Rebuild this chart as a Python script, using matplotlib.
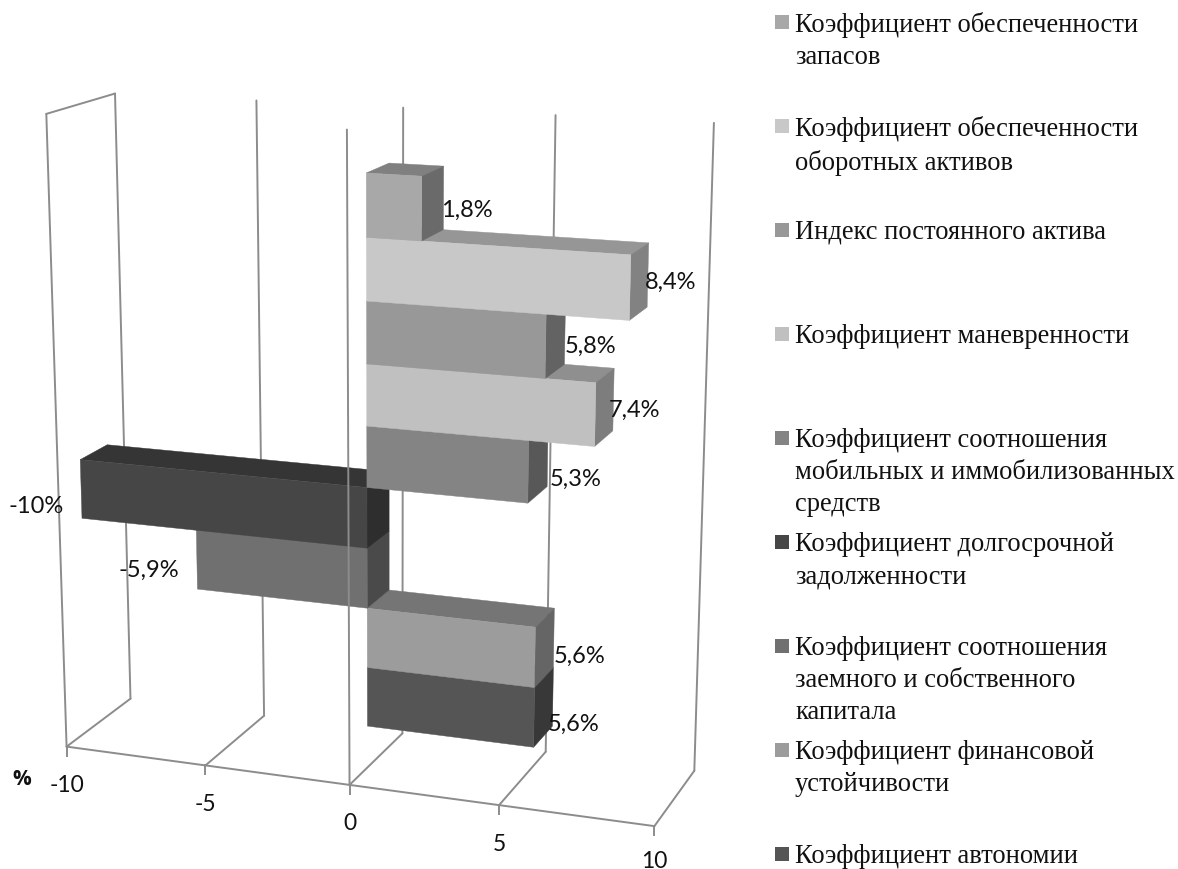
import matplotlib
matplotlib.use("Agg")
import matplotlib.pyplot as plt
import numpy as np
from matplotlib.patches import Polygon, Rectangle

labels = [
    "Коэффициент обеспеченности\nзапасов",
    "Коэффициент обеспеченности\nоборотных активов",
    "Индекс постоянного актива",
    "Коэффициент маневренности",
    "Коэффициент соотношения\nмобильных и иммобилизованных\nсредств",
    "Коэффициент долгосрочной\nзадолженности",
    "Коэффициент соотношения\nзаемного и собственного\nкапитала",
    "Коэффициент финансовой\nустойчивости",
    "Коэффициент автономии",
]
values = [1.8, 8.4, 5.8, 7.4, 5.3, -10, -5.9, 5.6, 5.6]
value_text = ["1,8%", "8,4%", "5,8%", "7,4%", "5,3%", "-10%", "-5,9%", "5,6%", "5,6%"]
axis_ticks = [-10, -5, 0, 5, 10]

front_colors = ["#a8a8a8", "#c8c8c8", "#989898", "#c0c0c0", "#848484", "#464646", "#707070", "#9c9c9c", "#555555"]
top_colors = ["#808080", "#969696", "#747474", "#8f8f8f", "#636363", "#353535", "#545454", "#757575", "#404040"]
side_colors = ["#6a6a6a", "#828282", "#636363", "#7d7d7d", "#585858", "#2e2e2e", "#4a4a4a", "#656565", "#383838"]
line_color = "#8c8c8c"

# per-label nudge from the bar end, in pixels
label_nudge = [(-2, 1), (-3, -6), (0, -1), (-5, -5), (2, 6), (-17, 16), (-18, 10), (0, -2), (-5, 6)]

# (value, depth, height) -> pixel pairs used to fit the camera
camera_points = [
    ((-10, 0, 0), (66.7, 747.7)), ((-5, 0, 0), (205.7, 766.7)), ((0, 0, 0), (349.3, 785.5)),
    ((5, 0, 0), (499, 806)), ((10, 0, 0), (654.3, 827.3)),
    ((-10, 1, 0), (130, 700)), ((-5, 1, 0), (264, 716.7)), ((0, 1, 0), (403, 733)),
    ((5, 1, 0), (546, 753.3)), ((10, 1, 0), (694, 772.3)),
    ((-10, 0, 1), (46, 114.7)), ((0, 0, 1), (347.3, 130.7)),
    ((-10, 1, 1), (115, 95)), ((-5, 1, 1), (256.7, 101.7)), ((0, 1, 1), (403.3, 109)),
    ((5, 1, 1), (555, 114)), ((10, 1, 1), (714, 125)),
]


def fit_camera(points):
    rows = []
    for (v, d, h), (px, py) in points:
        world = [v, d, h, 1]
        rows.append(world + [0, 0, 0, 0] + [-px * w for w in world])
        rows.append([0, 0, 0, 0] + world + [-py * w for w in world])
    _, _, vt = np.linalg.svd(np.array(rows, dtype=float))
    return vt[-1].reshape(3, 4)


camera = fit_camera(camera_points)


def project(v, d, h):
    x, y, w = camera @ np.array([v, d, h, 1.0])
    return x / w, y / w


DEPTH_FRONT, DEPTH_BACK = 0.33, 0.74
TOP_GAP = 0.782
ROW = 0.0953


def row_span(i):
    # rows count from the top of the stack
    top = 1 - (i + TOP_GAP) * ROW
    return top - ROW, top


fig = plt.figure(figsize=(11.78, 8.7), dpi=100)
ax = fig.add_axes([0, 0, 1, 1])
ax.set_xlim(0, 1178)
ax.set_ylim(870, 0)
ax.axis("off")


def grid_line(a, b, zorder=1):
    pa, pb = project(*a), project(*b)
    ax.plot([pa[0], pb[0]], [pa[1], pb[1]], color=line_color, lw=1.4, zorder=zorder,
            solid_capstyle="round", solid_joinstyle="round")


def face(corners, color, zorder):
    ax.add_patch(Polygon([project(*c) for c in corners], closed=True, facecolor=color,
                         edgecolor=color, lw=0.3, zorder=zorder))


# walls and floor behind the bars
for tick in axis_ticks:
    grid_line((tick, 1, 0), (tick, 1, 1))
    grid_line((tick, 0, 0), (tick, 1, 0))
grid_line((-10, 0, 0), (-10, 0, 1))
grid_line((-10, 0, 1), (-10, 1, 1))
grid_line((-10, 0, 0), (10, 0, 0))

# lower rows first so that each bar covers the top of the next one down
for i in reversed(range(len(values))):
    low, high = row_span(i)
    v = values[i]
    z = 10 + (len(values) - i)
    face([(0, DEPTH_FRONT, high), (0, DEPTH_BACK, high), (v, DEPTH_BACK, high), (v, DEPTH_FRONT, high)],
         top_colors[i], z)
    side_v = max(v, 0)
    face([(side_v, DEPTH_FRONT, low), (side_v, DEPTH_BACK, low), (side_v, DEPTH_BACK, high), (side_v, DEPTH_FRONT, high)],
         side_colors[i], z)
    face([(0, DEPTH_FRONT, low), (v, DEPTH_FRONT, low), (v, DEPTH_FRONT, high), (0, DEPTH_FRONT, high)],
         front_colors[i], z)

    mid = (low + high) / 2
    if v > 0:
        x = project(v, DEPTH_BACK, mid)[0]
        ha = "left"
    else:
        x = project(v, DEPTH_FRONT, mid)[0]
        ha = "right"
    y = project(v, DEPTH_FRONT, mid)[1]
    dx, dy = label_nudge[i]
    ax.text(x + dx, y + dy, value_text[i], family="Lato", fontsize=17, ha=ha, va="center",
            color="#111111", zorder=40)

# the front upright at zero passes in front of the bars
grid_line((0, 0, 0), (0, 0, 1), zorder=30)

for tick in axis_ticks:
    px, py = project(tick, 0, 0)
    ax.plot([px, px], [py, py + 9], color=line_color, lw=1.4, zorder=1)
    ax.text(px, min(py + 38, 862), str(tick), family="Lato", fontsize=16.5, ha="center", va="center",
            color="#111111")
ax.text(22, 780, "%", family="Open Sans", fontsize=15, fontweight="bold", ha="center", va="center", color="#111111")

# legend entries sit on an even pitch down the right side
for i, label in enumerate(labels):
    y = 23 + i * 104
    ax.add_patch(Rectangle((775, y - 7), 14, 14, facecolor=front_colors[i], edgecolor="none"))
    ax.text(795, y - 11, label, family="Liberation Serif", fontsize=19.1, ha="left", va="top",
            linespacing=1.38, color="#111111")

fig.savefig("out.png", dpi=100, facecolor="white")
